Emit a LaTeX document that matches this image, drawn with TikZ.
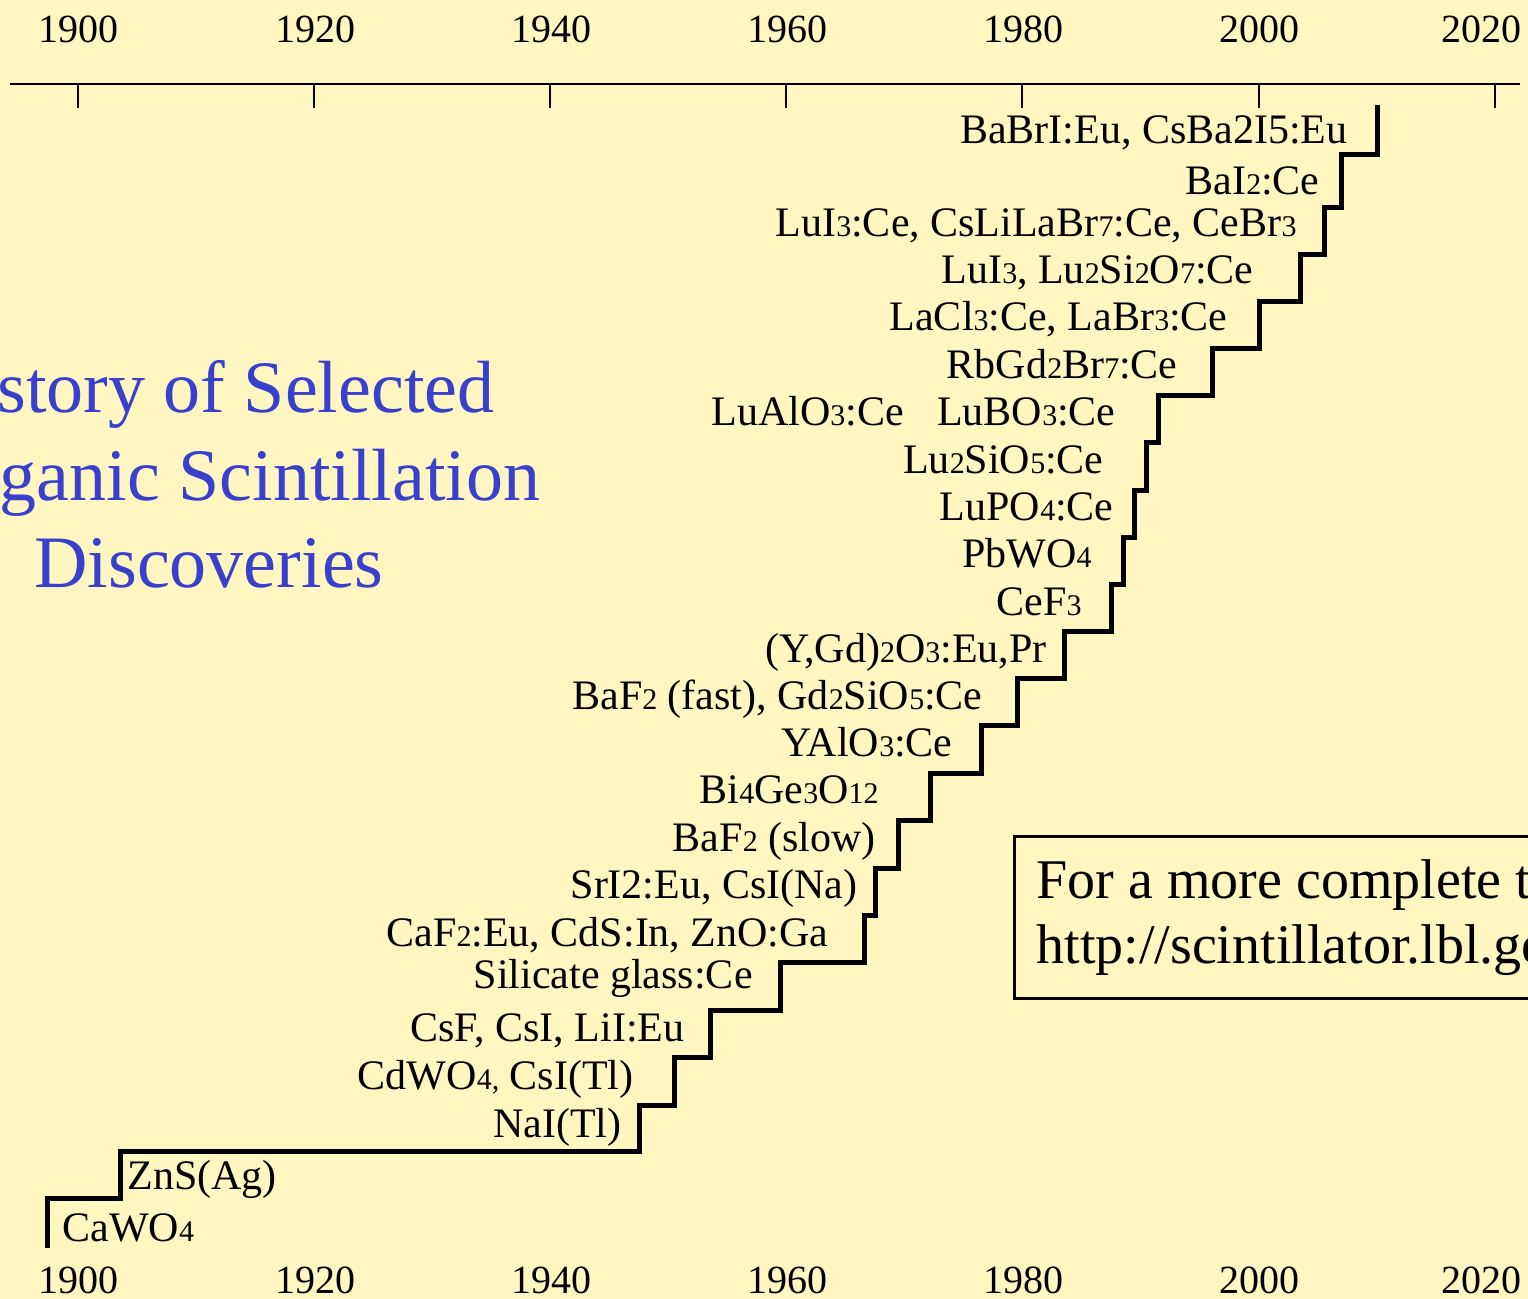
\documentclass[tikz,border=0pt]{standalone}
\usepackage{fontspec}
\setmainfont{Liberation Serif}
\definecolor{paper}{RGB}{255,246,193}
\definecolor{titleblue}{RGB}{56,64,204}
\newcommand{\ix}[1]{{\fontsize{15}{15}\selectfont #1}}
\tikzset{
  mat/.style={font=\fontsize{21}{21}\selectfont, inner sep=0pt, anchor=base east},
  yearlab/.style={font=\fontsize{20}{20}\selectfont, inner sep=0pt, anchor=base},
  stair/.style={line width=2.5pt, line join=miter},
}

\begin{document}
\begin{tikzpicture}[x=0.5pt, y=-0.5pt]
	\clip (0,0) rectangle (1528,1299);
	\fill[paper] (0,0) rectangle (1528,1299);
	% time axis with years above and below
	\draw[line width=1pt] (10,84) -- (1520,84);
	\foreach[count=\i from 0] \yr/\lx in {1900/79,1920/315,1940/551,1960/787,1980/1023,2000/1259,2020/1481} {
		\draw[line width=1pt] (78+236.1*\i,84) -- (78+236.1*\i,108);
		\node[yearlab] (top-\yr) at (\lx,43) {\yr};
		\node[yearlab] (bot-\yr) at (\lx,1293) {\yr};
	}
	% the staircase
	\draw[stair] (47,1248) foreach \sx/\sy in {120/1198, 639/1151, 674/1105, 710/1057, 780/1010,
		864/962, 875/915, 898/868, 930/821, 981/774, 1017/726, 1064/679, 1111/632, 1123/585,
		1134/538, 1146/491, 1158/443, 1212/396, 1259/349, 1300/302, 1324/255, 1341/208, 1377/155}
		{ |- (\sx,\sy) } -- (1377,105);
	\node[mat, anchor=base west] (mat-a) at (62,1241) {CaWO\ix{4}};
	\node[mat, anchor=base west] (mat-b) at (127,1189) {ZnS(Ag)};
	\foreach[count=\i] \lx/\ly/\ltxt in {
		622/1137/{NaI(Tl)},
		634/1089/{CdWO\ix{4,} CsI(Tl)},
		685/1041/{CsF, CsI, LiI:Eu},
		753/988/{Silicate glass:Ce},
		829/946/{CaF\ix{2}:Eu, CdS:In, ZnO:Ga},
		858/899/{SrI2:Eu, CsI(Na)},
		876/851/{BaF\ix{2} (slow)},
		879/804/{Bi\ix{4}Ge\ix{3}O\ix{12}},
		953/757/{YAlO\ix{3}:Ce},
		983/710/{BaF\ix{2} (fast), Gd\ix{2}SiO\ix{5}:Ce},
		1047/663/{(Y,Gd)\ix{2}O\ix{3}:Eu,Pr},
		1082/616/{CeF\ix{3}},
		1092/568/{PbWO\ix{4}},
		1114/521/{LuPO\ix{4}:Ce},
		1104/474/{Lu\ix{2}SiO\ix{5}:Ce},
		1116/426/{LuAlO\ix{3}:Ce\hspace{0.8em}LuBO\ix{3}:Ce},
		1178/379/{RbGd\ix{2}Br\ix{7}:Ce},
		1228/331/{LaCl\ix{3}:Ce, LaBr\ix{3}:Ce},
		1254/284/{LuI\ix{3}, Lu\ix{2}Si\ix{2}O\ix{7}:Ce},
		1297/237/{LuI\ix{3}:Ce, CsLiLaBr\ix{7}:Ce, CeBr\ix{3}},
		1320/195/{BaI\ix{2}:Ce},
		1348/144/{BaBrI:Eu, CsBa2I5:Eu}} {
		\node[mat] (mat-\i) at (\lx,\ly) {\ltxt};
	}
	% title and note box
	\node[font=\fontsize{37}{43.75}\selectfont, text=titleblue, align=center, anchor=base, inner sep=0pt]
		(title) at (209,588) {History of Selected\\Inorganic Scintillation\\Discoveries};
	\node[draw, line width=1.5pt, anchor=north west, minimum height=81pt, inner xsep=11pt, align=left,
		font=\fontsize{28}{32.5}\selectfont] (note) at (1013,835)
		{For a more complete table, see\\http://scintillator.lbl.gov};
\end{tikzpicture}
\end{document}
